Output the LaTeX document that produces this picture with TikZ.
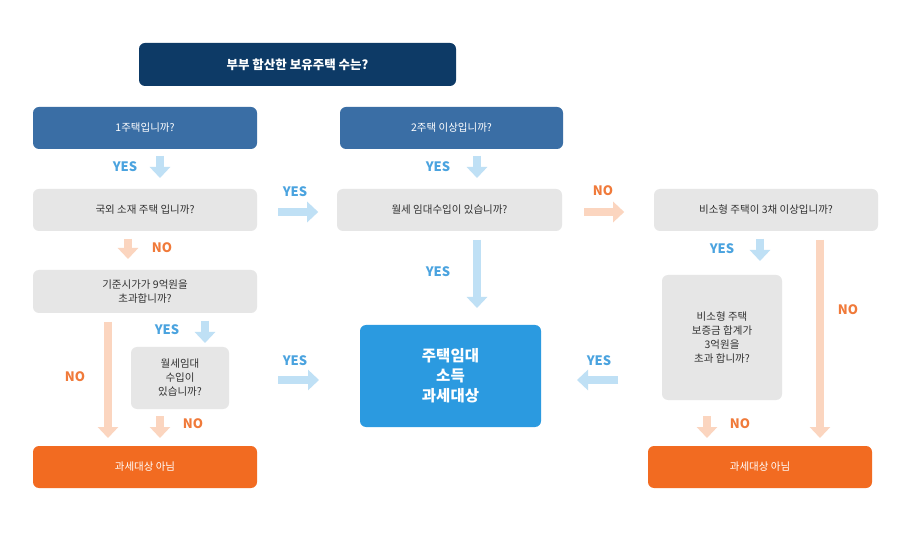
\documentclass[tikz,border=0pt]{standalone}
\usepackage{fontspec}
\setmainfont{Noto Sans CJK KR}
\usetikzlibrary{arrows.meta}
\definecolor{navy}{HTML}{0D3A66}
\definecolor{steel}{HTML}{3A6EA5}
\definecolor{gbox}{HTML}{E6E6E6}
\definecolor{cblue}{HTML}{2B9AE0}
\definecolor{orng}{HTML}{F26B21}
\definecolor{lblue}{HTML}{BFE0F5}
\definecolor{peach}{HTML}{FBD5BF}
\definecolor{yesc}{HTML}{4AA3DF}
\definecolor{noc}{HTML}{F07A3A}
\definecolor{txt}{HTML}{333333}
\tikzset{
 box/.style={rounded corners=6pt,inner sep=0pt,align=center,font=\fontsize{10.5}{14}\selectfont},
 hdr/.style={box,fill=steel,text=white},
 qbox/.style={box,fill=gbox,text=txt},
 obox/.style={box,fill=orng,text=white},
 yarr/.style={draw=lblue,line width=8pt,-{Triangle[width=20pt,length=11pt]}},
 narr/.style={draw=peach,line width=8pt,-{Triangle[width=20pt,length=11pt]}},
 ylab/.style={text=yesc,font=\bfseries\fontsize{13}{15}\selectfont},
 nlab/.style={text=noc,font=\bfseries\fontsize{13}{15}\selectfont},
}
\begin{document}
\begin{tikzpicture}[x=1pt,y=-1pt]
\useasboundingbox[fill=white] (0,0) rectangle (902,534);
\node[box,fill=navy,text=white,minimum width=317pt,minimum height=43pt,font=\bfseries\fontsize{12.5}{15}\selectfont] (t) at (297.5,64.5) {부부 합산한 보유주택 수는?};
\node[hdr,minimum width=224pt,minimum height=42pt] (h1) at (145,128) {1주택입니까?};
\node[hdr,minimum width=223pt,minimum height=42pt] (h2) at (451.5,128) {2주택 이상입니까?};
\node[qbox,minimum width=224pt,minimum height=42pt] (q1) at (145,210) {국외 소재 주택 입니까?};
\node[qbox,minimum width=225pt,minimum height=42pt] (q2) at (449.5,210) {월세 임대수입이 있습니까?};
\node[qbox,minimum width=224pt,minimum height=42pt] (q3) at (766,210) {비소형 주택이 3채 이상입니까?};
\node[qbox,minimum width=224pt,minimum height=43pt] (q4) at (145,291.5) {기준시가가 9억원을\\초과합니까?};
\node[qbox,minimum width=98pt,minimum height=62pt] (q5) at (180,378) {월세임대\\수입이\\있습니까?};
\node[qbox,minimum width=120pt,minimum height=125pt] (q6) at (722,337.5) {비소형 주택\\보증금 합계가\\3억원을\\초과 합니까?};
\node[box,fill=cblue,text=white,minimum width=181pt,minimum height=102pt,font=\bfseries\fontsize{15.5}{20}\selectfont] (c) at (450.5,376) {주택임대\\소득\\과세대상};
\node[obox,minimum width=224pt,minimum height=42pt] (o1) at (145,467) {과세대상 아님};
\node[obox,minimum width=224pt,minimum height=42pt] (o2) at (760,467) {과세대상 아님};
% arrows
\coordinate (a1s) at (160,156); \coordinate (a1e) at (160,178);
\draw[yarr] (a1s) -- (a1e); \node[ylab] (l1) at (125,167) {YES};
\coordinate (a2s) at (477,156); \coordinate (a2e) at (477,178);
\draw[yarr] (a2s) -- (a2e); \node[ylab] (l2) at (438,167) {YES};
\draw[yarr] (q1.east) ++(21,2) coordinate (a3s) -- ++(40,0); \node[ylab] (l3) at (295,192) {YES};
\draw[narr] (q2.east) ++(22,2) coordinate (a4s) -- ++(40,0); \node[nlab] (l4) at (603,191) {NO};
\coordinate (a5s) at (128,239); \coordinate (a5e) at (128,259);
\draw[narr] (a5s) -- (a5e); \node[nlab] (l5) at (162,248) {NO};
\coordinate (a6s) at (205,321); \coordinate (a6e) at (205,343);
\draw[yarr] (a6s) -- (a6e); \node[ylab] (l6) at (167,330) {YES};
\coordinate (a7s) at (108,322); \coordinate (a7e) at (108,438);
\draw[narr] (a7s) -- (a7e); \node[nlab] (l7) at (75,377) {NO};
\coordinate (a8s) at (160,416); \coordinate (a8e) at (160,438);
\draw[narr] (a8s) -- (a8e); \node[nlab] (l8) at (193,424) {NO};
\coordinate (a9s) at (278,380); \coordinate (a9e) at (319,380);
\draw[yarr] (a9s) -- (a9e); \node[ylab] (l9) at (295,361) {YES};
\coordinate (a10s) at (477,240); \coordinate (a10e) at (477,308);
\draw[yarr] (a10s) -- (a10e); \node[ylab] (l10) at (438,272) {YES};
\coordinate (a11s) at (618,380); \coordinate (a11e) at (577,380);
\draw[yarr] (a11s) -- (a11e); \node[ylab] (l11) at (599,361) {YES};
\coordinate (a12s) at (760,239); \coordinate (a12e) at (760,261);
\draw[yarr] (a12s) -- (a12e); \node[ylab] (l12) at (722,249) {YES};
\coordinate (a13s) at (820,240); \coordinate (a13e) at (820,438);
\draw[narr] (a13s) -- (a13e); \node[nlab] (l13) at (848,310) {NO};
\coordinate (a14s) at (707,416); \coordinate (a14e) at (707,438);
\draw[narr] (a14s) -- (a14e); \node[nlab] (l14) at (740,424) {NO};
\end{tikzpicture}
\end{document}
